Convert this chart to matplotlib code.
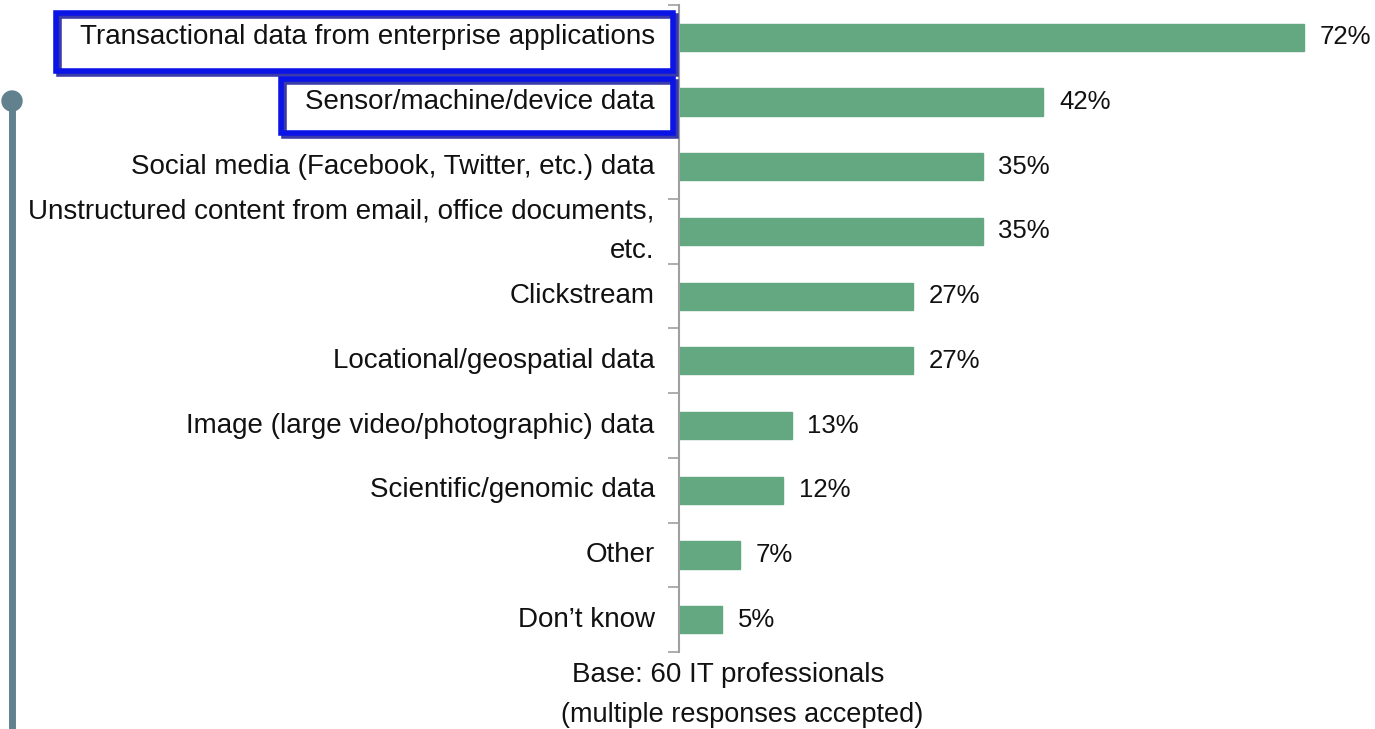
import matplotlib.pyplot as plt
import matplotlib.patches as mpatches
from matplotlib.lines import Line2D

plt.rcParams['font.family'] = ['Liberation Sans', 'DejaVu Sans']

# data
categories = [
    'Transactional data from enterprise applications',
    'Sensor/machine/device data',
    'Social media (Facebook, Twitter, etc.) data',
    'Unstructured content from email, office documents,\netc.',
    'Clickstream',
    'Locational/geospatial data',
    'Image (large video/photographic) data',
    'Scientific/genomic data',
    'Other',
    'Don\u2019t know',
]
values = [72, 42, 35, 35, 27, 27, 13, 12, 7, 5]
base_note = ['Base: 60 IT professionals', '(multiple responses accepted)']

W, H = 1375, 729
fig = plt.figure(figsize=(W / 100, H / 100), dpi=100)
ax = fig.add_axes([679 / W, 1 - 652 / H, 694 / W, 647 / H])

ypos = list(range(len(categories)))
ax.barh(ypos, values, height=0.42, color='#64a882', edgecolor='#64a882')
ax.set_ylim(len(categories) - 0.5, -0.5)
ax.set_xlim(0, 80)

for y, v in zip(ypos, values):
    ax.text(v + 1.8, y, f'{v}%', va='center', ha='left', fontsize=18.5, color='#111111')

# category labels
for y, c in zip(ypos, categories):
    ax.text(-2.8, y, c, va='center', ha='right', fontsize=20, color='#111111',
            linespacing=1.7)

for s in ['top', 'right', 'bottom']:
    ax.spines[s].set_visible(False)
ax.spines['left'].set_color('#a0a0a0')
ax.spines['left'].set_linewidth(1.5)
ax.set_xticks([])
ax.set_yticks([i - 0.5 for i in range(len(categories) + 1)])
ax.set_yticklabels([])
ax.tick_params(axis='y', length=8, width=1.2, color='#a0a0a0', direction='out')

# highlight boxes around first two labels
def box(x0, y0, x1, y1):
    for dx, col in [(3, '#3a3aa8'), (0, '#0a14e6')]:
        r = mpatches.Rectangle(((x0 + dx) / W, 1 - (y1 + dx) / H), (x1 - x0) / W, (y1 - y0) / H,
                               transform=fig.transFigure, fill=False, edgecolor=col,
                               linewidth=4, zorder=5 - dx)
        fig.add_artist(r)

box(56, 13, 673, 71)
box(281, 79, 673, 133)

# left timeline marker
fig.add_artist(Line2D([12 / W, 12 / W], [1 - 101 / H, 0], transform=fig.transFigure,
                      color='#62818f', linewidth=5))
fig.add_artist(mpatches.Ellipse((12 / W, 1 - 101 / H), 20 / W, 20 / H, transform=fig.transFigure,
                                color='#62818f'))

fig.text(728 / W, 1 - 675 / H, base_note[0], ha='center', va='center', fontsize=20, color='#111111')
fig.text(742 / W, 1 - 715 / H, base_note[1], ha='center', va='center', fontsize=19.5, color='#111111')

fig.savefig('out.png', dpi=100)
